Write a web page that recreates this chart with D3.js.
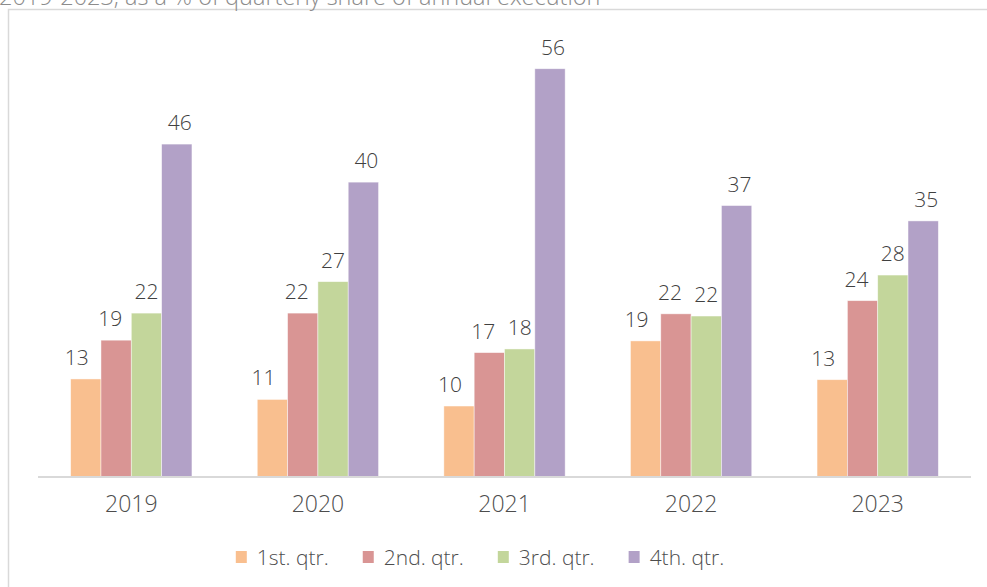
<!DOCTYPE html>
<html>
<head>
<meta charset="utf-8">
<script src="https://cdn.jsdelivr.net/npm/d3@7"></script>
<style>
  html, body { margin: 0; padding: 0; background: #fff; }
  svg { display: block; font-family: "Open Sans", sans-serif; font-weight: 300; }
</style>
</head>
<body>
<div id="chart"></div>
<script>
'use strict';

// data (each year sums to ~100)
var years = ['2019', '2020', '2021', '2022', '2023'];
var quarters = ['1st. qtr.', '2nd. qtr.', '3rd. qtr.', '4th. qtr.'];
var q1 = [13.4, 10.6, 9.7, 18.6, 13.3];
var q2 = [18.7, 22.4, 17.0, 22.3, 24.1];
var q3 = [22.4, 26.7, 17.5, 22.0, 27.6];
var q4 = [45.5, 40.3, 55.8, 37.1, 35.0];
var colors = ['#F9BF8F', '#D99594', '#C3D69B', '#B2A1C7'];
var title = '2019-2023, as a % of quarterly share of annual execution';

var series = [q1, q2, q3, q4];

var width = 987;
var height = 587;
var margin = {top: 38, right: 16, bottom: 110, left: 38};

var svg = d3.select('#chart').append('svg')
	.attr('width', width)
	.attr('height', height);

// frame + heading (cut off at the top, as in the source)
svg.append('rect')
	.attr('x', 8.5).attr('y', 9.5)
	.attr('width', width + 20).attr('height', height + 20)
	.style('fill', 'none')
	.style('stroke', '#d9d9d9')
	.style('stroke-width', 1.5);

svg.append('text')
	.attr('x', -1).attr('y', 5)
	.style('font-size', '23.5px')
	.style('fill', '#8c8c8c')
	.text(title);

var x0 = d3.scaleBand()
	.domain(years)
	.range([margin.left, width - margin.right])
	.paddingInner(0.35)
	.paddingOuter(0.175);

var x1 = d3.scaleBand()
	.domain(d3.range(quarters.length))
	.range([0, x0.bandwidth()]);

var y = d3.scaleLinear()
	.domain([0, 60])
	.range([height - margin.bottom, margin.top]);

var fmt = d3.format('.0f');
var labelDx = [-9, -6, 0, 3];

var groups = svg.selectAll('g.year')
	.data(years)
	.enter().append('g')
		.attr('class', 'year')
		.attr('transform', function(d){ return 'translate(' + x0(d) + ',0)'; });

groups.selectAll('rect')
	.data(function(d, i){ return series.map(function(s, k){ return {k: k, v: s[i]}; }); })
	.enter().append('rect')
		.attr('x', function(d){ return x1(d.k); })
		.attr('y', function(d){ return y(d.v); })
		.attr('width', x1.bandwidth())
		.attr('height', function(d){ return y(0) - y(d.v); })
		.style('fill', function(d){ return colors[d.k]; })
		.style('stroke', 'rgba(255,255,255,0.6)')
		.style('stroke-width', 0.75);

groups.selectAll('text.val')
	.data(function(d, i){ return series.map(function(s, k){ return {k: k, v: s[i]}; }); })
	.enter().append('text')
		.attr('class', 'val')
		.attr('x', function(d){ return x1(d.k) + x1.bandwidth() / 2 + labelDx[d.k]; })
		.attr('y', function(d){ return y(d.v) - 14; })
		.style('text-anchor', 'middle')
		.style('font-size', '21px')
		.style('fill', '#404040')
		.text(function(d){ return fmt(d.v); });

// x axis
var xAxis = svg.append('g')
	.attr('transform', 'translate(0,' + y(0) + ')')
	.call(d3.axisBottom(x0).tickSize(0).tickPadding(19));

xAxis.select('.domain')
	.attr('d', 'M' + margin.left + ',0H' + (width - margin.right))
	.style('stroke', '#d9d9d9')
	.style('stroke-width', 2);

xAxis.selectAll('text')
	.attr('dy', '0.71em')
	.style('font-family', '"Open Sans", sans-serif')
	.style('font-weight', 300)
	.style('font-size', '23px')
	.style('fill', '#4d4d4d');

// legend
var legend = svg.append('g')
	.attr('transform', 'translate(0,557)');

var items = legend.selectAll('g')
	.data(quarters)
	.enter().append('g');

items.append('rect')
	.attr('y', -6)
	.attr('width', 11)
	.attr('height', 12)
	.style('fill', function(d, i){ return colors[i]; });

items.append('text')
	.attr('x', 21)
	.attr('y', 8)
	.style('font-size', '21px')
	.style('fill', '#4d4d4d')
	.text(function(d){ return d; });

var pos = 0;
var offsets = [];
items.each(function(){
	offsets.push(pos);
	pos += 21 + this.querySelector('text').getComputedTextLength() + 34;
});
var total = pos - 34;
var startX = 480 - total / 2;
items.attr('transform', function(d, i){ return 'translate(' + (startX + offsets[i]) + ',0)'; });

</script>
</body>
</html>
